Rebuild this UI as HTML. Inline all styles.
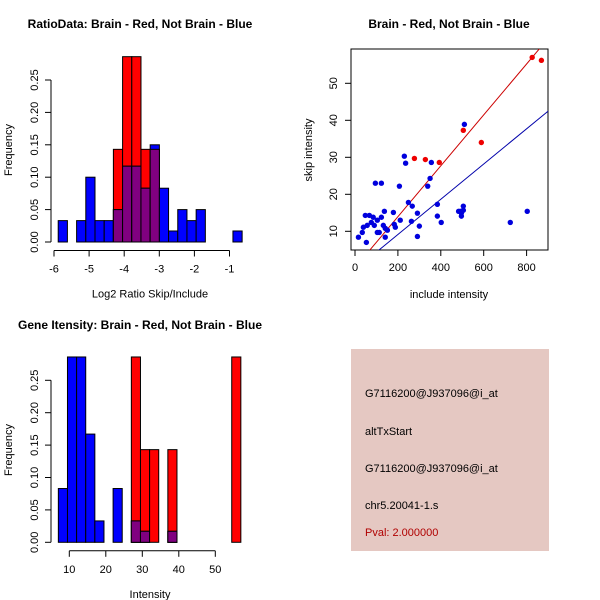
<!DOCTYPE html>
<html><head><meta charset="utf-8"><style>
body{margin:0;background:#fff;}
svg{display:block;font-family:"Liberation Sans",sans-serif;}
</style></head><body>
<svg id="s" width="600" height="600" viewBox="0 0 600 600">
<rect width="600" height="600" fill="#fff"/>
<rect x="351" y="349" width="198" height="202" fill="#e5c8c2"/>
<g font-size="11" fill="#000">
<text x="365" y="397">G7116200@J937096@i_at</text>
<text x="365" y="435">altTxStart</text>
<text x="365" y="472">G7116200@J937096@i_at</text>
<text x="365" y="509">chr5.20041-1.s</text>
<text x="365" y="536" fill="#b00000">Pval: 2.000000</text>
</g>
</svg>
<script>
// ---- Ratio histogram data ----
const ratioBinStart = -5.88;
const ratioBinWidth = 0.262;
const ratioBlue = [0.033,0,0.033,0.1,0.033,0.033,0.05,0.117,0.117,0.083,0.15,0.083,0.017,0.05,0.033,0.05,0,0,0,0.017];
const ratioRed  = [0,0,0,0,0,0,0.143,0.286,0.286,0.143,0.143,0,0,0,0,0,0,0,0,0];
const ratioXTicks = [-6,-5,-4,-3,-2,-1];
const freqTicks = [0,0.05,0.10,0.15,0.20,0.25];
const freqTickLabels = ["0.00","0.05","0.10","0.15","0.20","0.25"];
// ---- Gene intensity histogram data ----
const geneBinStart = 7;
const geneBinWidth = 2.5;
const geneBlue = [0.083,0.286,0.286,0.167,0.033,0,0.083,0,0.033,0.017,0,0,0.017,0,0,0,0,0,0,0];
const geneRed  = [0,0,0,0,0,0,0,0,0.286,0.143,0.143,0,0.143,0,0,0,0,0,0,0.286];
const geneXTicks = [10,20,30,40,50];
// ---- Scatter data ----
const redX = [826,869,505,589,277,328,393];
const redY = [57,56.2,37.3,34,29.7,29.4,28.6];
const blueX = [510,230,236,356,350,95,123,207,339,249,267,384,48,67,85,123,137,179,291,384,491,505,505,496,483,803,76,104,90,104,113,132,141,151,183,211,188,263,300,402,724,39,57,34,16,53,141,291,496];
const blueY = [38.9,30.3,28.4,28.6,24.3,23,23,22.2,22.2,17.8,16.8,17.3,14.3,14.3,13.8,13.8,15.4,15.1,14.9,14.1,15.4,15.7,16.8,14.1,15.4,15.4,12.4,13,11.6,9.7,9.7,11.6,10.8,10.3,11.9,13,11.1,12.7,11.4,12.4,12.4,11.1,11.6,9.7,8.4,7,8.4,8.6,14.9];
const redLine = [0.18,0.0688];   // intercept, slope
const blueLine = [-0.38,0.0476];
const scatXTicks = [0,200,400,600,800];
const scatYTicks = [10,20,30,40,50];

const NS="http://www.w3.org/2000/svg";
const svg=document.getElementById('s');
function el(t,a,p){const e=document.createElementNS(NS,t);for(const k in a)e.setAttribute(k,a[k]);(p||svg).appendChild(e);return e;}
function txt(x,y,s,a,p){const e=el('text',Object.assign({x:x,y:y},a||{}),p);e.textContent=s;return e;}

function histogram(name,title,xlabel,binStart,binW,blue,red,xTicks,xs,ys,yTop,titleX,titleY){
  const g=el('g',{});
  
  
  const y0=ys(0);
  for(let i=0;i<blue.length;i++){
    const x1=xs(binStart+i*binW),x2=xs(binStart+(i+1)*binW);
    const b=blue[i],r=red[i];
    if(r>0){const e=el('rect',{x:x1,y:ys(r),width:x2-x1,height:y0-ys(r),fill:'#ff0000',stroke:'#000','stroke-width':1},g);
      
      }
    if(b>0){const e=el('rect',{x:x1,y:ys(b),width:x2-x1,height:y0-ys(b),fill:'#0000ff',stroke:'#000','stroke-width':1},g);
      
      }
    if(b>0&&r>0){const m=Math.min(b,r);const e=el('rect',{x:x1,y:ys(m),width:x2-x1,height:y0-ys(m),fill:'#800080',stroke:'#000','stroke-width':1},g);
      
      }
  }
  const ya=el('g',{},g);
  
  
  el('line',{x1:51,y1:ys(0),x2:51,y2:ys(0.25),stroke:'#000'},ya);
  freqTicks.forEach((v,i)=>{
    el('line',{x1:45,y1:ys(v),x2:51,y2:ys(v),stroke:'#000'},ya);
    txt(38,ys(v),freqTickLabels[i],{'font-size':11,'text-anchor':'middle',transform:`rotate(-90 38 ${ys(v)})`},ya);
  });
  const yt=txt(12,yTop,'Frequency',{'font-size':11,'text-anchor':'middle',transform:`rotate(-90 12 ${yTop})`},g);
  
  
  const xa=el('g',{},g);
  
  
  const ay=y0+8.5;
  el('line',{x1:xs(xTicks[0]),y1:ay,x2:xs(xTicks[xTicks.length-1]),y2:ay,stroke:'#000'},xa);
  xTicks.forEach(v=>{el('line',{x1:xs(v),y1:ay,x2:xs(v),y2:ay+6,stroke:'#000'},xa);
    txt(xs(v),ay+22,String(v),{'font-size':11,'text-anchor':'middle'},xa);});
  const xt=txt(150,ay+47,xlabel,{'font-size':11,'text-anchor':'middle'},g);
  
  
  const tt=txt(titleX,titleY,title,{'font-size':12,'font-weight':'bold','text-anchor':'middle'},g);
  
  
}

const rX=v=>54+(v+6)*35.1, rY=v=>242-v*648;
histogram('ratio-histogram','RatioData: Brain - Red, Not Brain - Blue','Log2 Ratio Skip/Include',ratioBinStart,ratioBinWidth,ratioBlue,ratioRed,ratioXTicks,rX,rY,150,140,28);
const gX=v=>69.3+(v-10)*3.65, gY=v=>542.3-v*648;
histogram('gene-histogram','Gene Itensity: Brain - Red, Not Brain - Blue','Intensity',geneBinStart,geneBinWidth,geneBlue,geneRed,geneXTicks,gX,gY,450,140,329);

const sX=v=>355+v*0.2145, sY=v=>231.3-(v-10)*3.7;
const sg=el('g',{});


const cp=el('clipPath',{id:'cp'},sg);el('rect',{x:351,y:49,width:197,height:201},cp);
const box=el('rect',{x:351,y:49,width:197,height:201,fill:'none',stroke:'#000'},sg);


[[redLine,'#cc0000','red-fit-line'],[blueLine,'#0000aa','blue-fit-line']].forEach(([c,col,n])=>{
  const l=el('line',{x1:sX(0),y1:sY(c[0]),x2:sX(1000),y2:sY(c[0]+c[1]*1000),stroke:col,'stroke-width':1,'clip-path':'url(#cp)'},sg);
  
  
});
blueX.forEach((x,i)=>{const c=el('circle',{cx:sX(x),cy:sY(blueY[i]),r:2.7,fill:'#0000dd'},sg);
  
  });
redX.forEach((x,i)=>{const c=el('circle',{cx:sX(x),cy:sY(redY[i]),r:2.7,fill:'#ee0000'},sg);
  
  });
const sxa=el('g',{},sg);


scatXTicks.forEach(v=>{el('line',{x1:sX(v),y1:250,x2:sX(v),y2:256,stroke:'#000'},sxa);
  txt(sX(v),271,String(v),{'font-size':11,'text-anchor':'middle'},sxa);});
const sya=el('g',{},sg);


scatYTicks.forEach(v=>{el('line',{x1:345,y1:sY(v),x2:351,y2:sY(v),stroke:'#000'},sya);
  txt(337,sY(v),String(v),{'font-size':11,'text-anchor':'middle',transform:`rotate(-90 337 ${sY(v)})`},sya);});
const sxt=txt(449,298,'include intensity',{'font-size':11,'text-anchor':'middle'},sg);


const syt=txt(312,150,'skip intensity',{'font-size':11,'text-anchor':'middle',transform:'rotate(-90 312 150)'},sg);


const stt=txt(449,28,'Brain - Red, Not Brain - Blue',{'font-size':12,'font-weight':'bold','text-anchor':'middle'},sg);


</script>
</body></html>
